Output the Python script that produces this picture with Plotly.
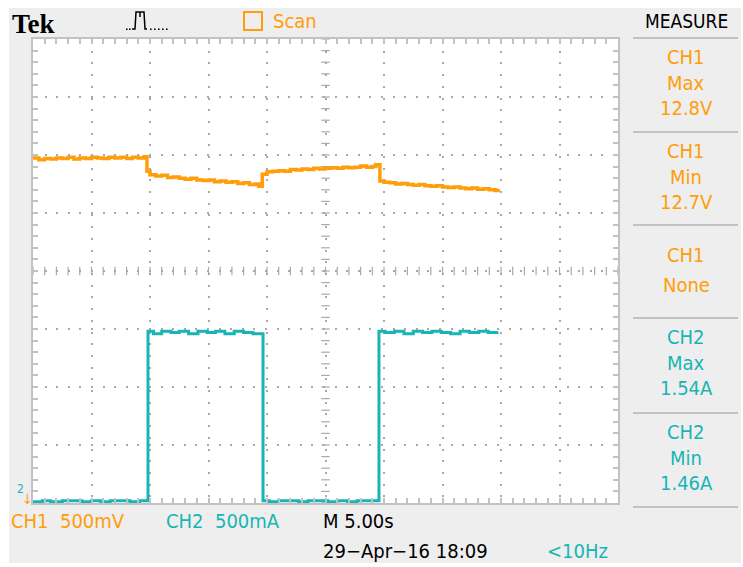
import plotly.graph_objects as go

# ---------------- data (screen units: x in seconds, 5 s/div; y in divisions) -------------
ch1_t = [0, 0.5, 1, 1.5, 2, 2.5, 3, 3.5, 4, 4.5, 5, 5.5, 6, 6.5, 7, 7.5, 8, 8.5, 9, 9.5, 9.74,
         10.0, 10.5, 11, 11.5, 12, 12.5, 13, 13.5, 14, 14.5, 15, 15.5, 16, 16.5, 17, 17.5, 18, 18.5, 19, 19.3,
         19.6, 20, 20.5, 21, 21.5, 22, 22.5, 23, 23.5, 24, 24.5, 25, 25.5, 26, 26.5, 27, 27.5, 28, 28.5, 29, 29.3,
         29.65, 30, 30.5, 31, 31.5, 32, 32.5, 33, 33.5, 34, 34.5, 35, 35.5, 36, 36.5, 37, 37.5, 38, 38.5, 39, 39.5, 39.9]
ch1_div = [5.95, 5.92, 5.94, 5.93, 5.95, 5.94, 5.96, 5.93, 5.95, 5.94, 5.96, 5.95, 5.94, 5.96, 5.95, 5.96, 5.94, 5.96, 5.95, 5.97, 5.72,
           5.66, 5.64, 5.65, 5.61, 5.62, 5.60, 5.58, 5.60, 5.57, 5.56, 5.57, 5.54, 5.55, 5.53, 5.54, 5.51, 5.52, 5.49, 5.50, 5.46,
           5.67, 5.71, 5.72, 5.73, 5.72, 5.75, 5.74, 5.76, 5.75, 5.77, 5.76, 5.77, 5.78, 5.77, 5.79, 5.78, 5.79, 5.81, 5.79, 5.80, 5.83,
           5.55, 5.53, 5.52, 5.50, 5.51, 5.49, 5.48, 5.49, 5.47, 5.46, 5.47, 5.45, 5.44, 5.45, 5.43, 5.42, 5.43, 5.41, 5.42, 5.40, 5.39, 5.39]

ch2_t = [0, 0.8, 1.5, 2.5, 3.3, 4.2, 5, 5.8, 6.6, 7.5, 8.3, 9.1, 9.83,
         10.3, 11, 11.8, 12.5, 13.3, 14.1, 14.9, 15.6, 16.4, 17.2, 18, 18.8, 19.66,
         20.2, 21, 21.9, 22.7, 23.5, 24.4, 25.2, 26, 26.9, 27.7, 28.5, 29.57,
         30.1, 30.9, 31.7, 32.5, 33.3, 34.1, 34.9, 35.7, 36.5, 37.3, 38.1, 38.9, 39.66]
ch2_amp = [0.01, 0.02, 0.01, 0.02, 0.02, 0.01, 0.02, 0.01, 0.02, 0.02, 0.01, 0.02, 1.48,
           1.46, 1.48, 1.47, 1.48, 1.46, 1.48, 1.47, 1.48, 1.46, 1.48, 1.47, 1.46, 0.02,
           0.01, 0.02, 0.02, 0.01, 0.02, 0.02, 0.01, 0.02, 0.01, 0.02, 0.02, 1.48,
           1.47, 1.48, 1.46, 1.48, 1.47, 1.48, 1.47, 1.46, 1.48, 1.47, 1.48, 1.47, 1.48]
ch2_amps_per_div = 0.5

measure_labels = [["CH1", "Max", "12.8V"], ["CH1", "Min", "12.7V"], ["CH1", "None"],
                  ["CH2", "Max", "1.54A"], ["CH2", "Min", "1.46A"]]

ORANGE = "#ff9d0a"
TEAL = "#17b5b5"
GRID = "#a9a9a9"
BORDER = "#c2c2c2"
PANEL = "#eeeeee"
FONT = "Liberation Sans Narrow, DejaVu Sans Condensed, Liberation Sans, sans-serif"

# plot area geometry in pixels
L, T, W, H = 33, 39, 585, 464
FW, FH = 743, 567


def px(x):
    return (x - L) / W


def py(y):
    return (T + H - y) / H


fig = go.Figure()

# centre graticule cross tick marks
fig.add_trace(go.Scatter(x=[25] * 41, y=[k * 0.2 for k in range(41)], mode="markers",
                         marker=dict(symbol="line-ew", size=6, line=dict(width=1.2, color=GRID)),
                         hoverinfo="skip", showlegend=False))
fig.add_trace(go.Scatter(x=[k for k in range(51)], y=[4] * 51, mode="markers",
                         marker=dict(symbol="line-ns", size=6, line=dict(width=1.2, color=GRID)),
                         hoverinfo="skip", showlegend=False))

fig.add_trace(go.Scatter(x=ch1_t, y=ch1_div, mode="lines", line=dict(color=ORANGE, width=3.5, shape="hv"),
                         showlegend=False, name="CH1"))
fig.add_trace(go.Scatter(x=ch2_t, y=[a / ch2_amps_per_div for a in ch2_amp], mode="lines",
                         line=dict(color=TEAL, width=3, shape="hv"), showlegend=False, name="CH2"))

shapes = []
# grey screen background and white graticule area
shapes.append(dict(type="rect", xref="paper", yref="paper", x0=px(9), x1=px(741), y0=py(563), y1=py(8),
                   fillcolor=PANEL, line=dict(width=0), layer="below"))
shapes.append(dict(type="rect", xref="paper", yref="paper", x0=0, x1=1, y0=0, y1=1,
                   fillcolor="white", line=dict(width=0), layer="below"))
# measure panel dividers
for yy in [38, 132, 225, 318, 413, 507]:
    shapes.append(dict(type="line", xref="paper", yref="paper", x0=px(633), x1=px(738), y0=py(yy), y1=py(yy),
                       line=dict(color=BORDER, width=2)))
# scan box
shapes.append(dict(type="rect", xref="paper", yref="paper", x0=px(244), x1=px(262), y0=py(30), y1=py(12),
                   line=dict(color=ORANGE, width=2)))
# trigger pulse icon
path = "M{},{} L{},{} L{},{} L{},{} L{},{} L{},{}".format(
    px(132), py(29), px(135), py(29), px(136), py(12), px(144), py(12), px(145), py(29), px(147), py(29))
shapes.append(dict(type="path", xref="paper", yref="paper", path=path, line=dict(color="black", width=1.5)))
shapes.append(dict(type="path", xref="paper", yref="paper",
                   path="M{},{} L{},{}".format(px(140), py(12), px(140), py(17)), line=dict(color="black", width=1.5)))
for xx in [126, 129, 150, 154, 158, 162, 166]:
    shapes.append(dict(type="rect", xref="paper", yref="paper", x0=px(xx), x1=px(xx + 1.6), y0=py(30), y1=py(28.5),
                       fillcolor="black", line=dict(width=0)))

annotations = []


def txt(x, y, s, color, size=18, anchor="left", family=FONT):
    annotations.append(dict(xref="paper", yref="paper", x=px(x), y=py(y), text=s, showarrow=False,
                            xanchor=anchor, yanchor="middle", font=dict(family=family, size=size, color=color)))


txt(10, 24, "<b>Tek</b>", "black", size=27, family="Liberation Serif, DejaVu Serif, serif")
txt(271, 21, "Scan", ORANGE, size=20)
txt(686, 21, "MEASURE", "black", size=19, anchor="center")

block_tops = [38, 132, 225, 318, 413]
for top, lab in zip(block_tops, measure_labels):
    col = ORANGE if lab[0] == "CH1" else TEAL
    if len(lab) == 3:
        for i, s in enumerate(lab):
            txt(686, top + 19 + i * 25.5, s, col, size=20, anchor="center")
    else:
        txt(686, top + 30, lab[0], col, size=20, anchor="center")
        txt(686, top + 60, lab[1], col, size=20, anchor="center")

txt(9, 521, "CH1  500mV", ORANGE, size=20)
txt(164, 521, "CH2  500mA", TEAL, size=20)
txt(321, 521, "M 5.00s", "black", size=20)
txt(321, 551, "29\u2212Apr\u221216 18:09", "black", size=20)
txt(545, 551, "&lt;10Hz", TEAL, size=20)
txt(15, 489, "2", TEAL, size=12)
txt(27, 499, "\u2193", ORANGE, size=14, anchor="center")

axis_common = dict(showticklabels=False, showgrid=True, gridcolor=GRID, gridwidth=2,
                   zeroline=False, showline=True, linecolor=BORDER, linewidth=2, mirror="ticks",
                   ticks="inside", ticklen=5, tickwidth=1.5, tickcolor=BORDER, fixedrange=True)

fig.update_xaxes(range=[0, 50], dtick=5, tick0=0, griddash="2px,9.7px",
                 minor=dict(dtick=1, tick0=0, ticks="inside", ticklen=5, tickwidth=1.5, tickcolor=BORDER, showgrid=False),
                 **axis_common)
fig.update_yaxes(range=[0, 8], dtick=1, tick0=0, griddash="2px,9.6px",
                 minor=dict(dtick=0.2, tick0=0, ticks="inside", ticklen=5, tickwidth=1.5, tickcolor=BORDER, showgrid=False),
                 **axis_common)

fig.update_layout(width=FW, height=FH, margin=dict(l=L, r=FW - L - W, t=T, b=FH - T - H),
                  paper_bgcolor="white", plot_bgcolor="white", shapes=shapes, annotations=annotations,
                  showlegend=False)

fig.write_html("out.html", config={"displayModeBar": False},
               post_script="document.body.style.margin='0';document.body.style.overflow='hidden';")
